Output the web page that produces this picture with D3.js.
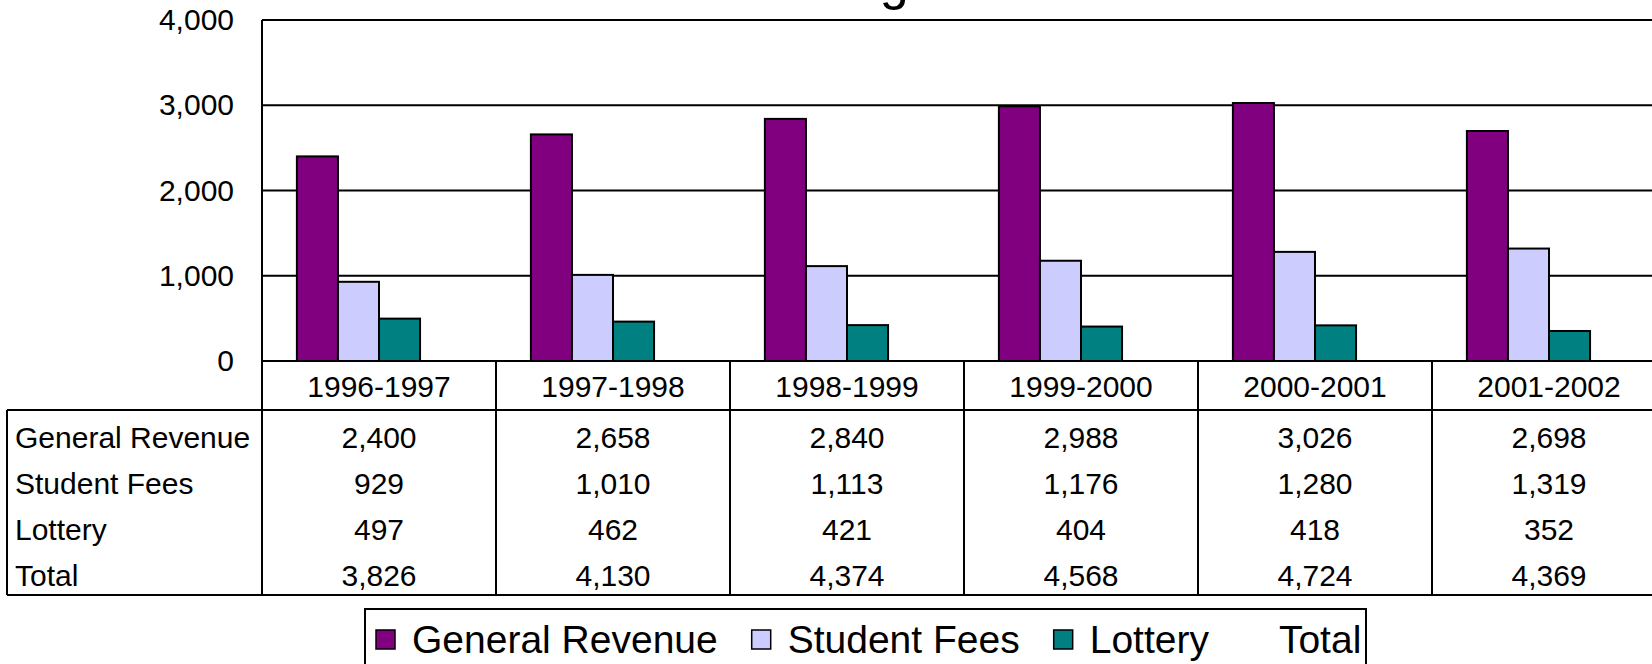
<!DOCTYPE html>
<html>
<head>
<meta charset="utf-8">
<script src="https://cdn.jsdelivr.net/npm/d3@7"></script>
<style>
  body { margin: 0; background: #fff; }
  svg { display: block; font-family: "Liberation Sans", Arial, sans-serif; }
</style>
</head>
<body>
<div class="canvas"></div>
<script>
// data
const categories = ['1996-1997', '1997-1998', '1998-1999', '1999-2000', '2000-2001', '2001-2002']
const seriesNames = ['General Revenue', 'Student Fees', 'Lottery', 'Total']
const generalRevenue = [2400, 2658, 2840, 2988, 3026, 2698]
const studentFees = [929, 1010, 1113, 1176, 1280, 1319]
const lottery = [497, 462, 421, 404, 418, 352]
const total = [3826, 4130, 4374, 4568, 4724, 4369]
const yTicks = [0, 1000, 2000, 3000, 4000]
const colors = ['#800080', '#ccccff', '#008080', 'none']

const seriesValues = [generalRevenue, studentFees, lottery, total]

const width = 1652
const height = 664

const svg = d3.select('.canvas')
    .append('svg')
    .attr('width', width)
    .attr('height', height)

const plot = { left: 262, top: 20, bottom: 361 }
const colW = 234
const tableLeft = 7
const rowH = 46.25
const tableBottom = plot.bottom + 49 + rowH * 4

// scales
const x = d3.scaleBand()
    .domain(categories)
    .range([plot.left, plot.left + colW * categories.length])

const xs = d3.scaleBand()
    .domain(seriesNames)
    .range([0, x.bandwidth()])
    .paddingOuter(0.85)

const y = d3.scaleLinear()
    .domain([0, 4000])
    .range([plot.bottom, plot.top])

// title (mostly above the visible area)
svg.append('text')
    .attr('x', 880 - 52 * 3.06)
    .attr('y', -1)
    .attr('font-size', 52)
    .text('Funding Sources')

// gridlines
svg.append('g')
    .selectAll('line')
    .data(yTicks)
    .enter()
    .append('line')
    .attr('x1', plot.left)
    .attr('x2', width + 20)
    .attr('y1', d => y(d))
    .attr('y2', d => y(d))
    .attr('stroke', '#000')
    .attr('stroke-width', 2)

// y axis labels
const yAxis = d3.axisLeft(y)
    .tickValues(yTicks)
    .tickSize(0)
    .tickPadding(28)
    .tickFormat(d3.format(','))

const yAxisGroup = svg.append('g')
    .attr('transform', `translate(${plot.left},0)`)
    .call(yAxis)
yAxisGroup.select('.domain').remove()
yAxisGroup.selectAll('text')
    .attr('font-size', 30)
    .attr('font-family', '"Liberation Sans", Arial, sans-serif')
    .attr('fill', '#000')

// bars
const groups = svg.append('g')
    .selectAll('g')
    .data(categories)
    .enter()
    .append('g')
    .attr('transform', d => `translate(${x(d)},0)`)

groups.selectAll('rect')
    .data((d, i) => seriesNames.slice(0, 3).map((s, k) => ({ s, k, v: seriesValues[k][i] })))
    .enter()
    .append('rect')
    .attr('x', d => xs(d.s))
    .attr('width', xs.bandwidth())
    .attr('y', d => y(d.v))
    .attr('height', d => plot.bottom - y(d.v))
    .attr('fill', d => colors[d.k])
    .attr('stroke', '#000')
    .attr('stroke-width', 2)

// plot left border
svg.append('line')
    .attr('x1', plot.left).attr('x2', plot.left)
    .attr('y1', plot.top).attr('y2', tableBottom)
    .attr('stroke', '#000').attr('stroke-width', 2)

// data table
const table = svg.append('g')
const headerBottom = plot.bottom + 49

table.append('line')
    .attr('x1', tableLeft).attr('x2', width + 20)
    .attr('y1', headerBottom).attr('y2', headerBottom)
    .attr('stroke', '#000').attr('stroke-width', 2)
table.append('line')
    .attr('x1', tableLeft).attr('x2', width + 20)
    .attr('y1', tableBottom).attr('y2', tableBottom)
    .attr('stroke', '#000').attr('stroke-width', 2)
table.append('line')
    .attr('x1', tableLeft).attr('x2', tableLeft)
    .attr('y1', headerBottom).attr('y2', tableBottom)
    .attr('stroke', '#000').attr('stroke-width', 2)

table.selectAll('.col')
    .data(categories)
    .enter()
    .append('line')
    .attr('x1', d => x(d) + colW).attr('x2', d => x(d) + colW)
    .attr('y1', plot.bottom).attr('y2', tableBottom)
    .attr('stroke', '#000').attr('stroke-width', 2)

table.selectAll('.head')
    .data(categories)
    .enter()
    .append('text')
    .attr('x', d => x(d) + colW / 2)
    .attr('y', plot.bottom + 25)
    .attr('dy', '0.35em')
    .attr('text-anchor', 'middle')
    .attr('font-size', 30)
    .text(d => d)

seriesNames.forEach((name, k) => {
    const ry = headerBottom + rowH * k + 27
    table.append('text')
        .attr('x', 15)
        .attr('y', ry)
        .attr('dy', '0.35em')
        .attr('font-size', 30)
        .text(name)
    table.selectAll('.v' + k)
        .data(seriesValues[k])
        .enter()
        .append('text')
        .attr('x', (d, i) => x(categories[i]) + colW / 2)
        .attr('y', ry)
        .attr('dy', '0.35em')
        .attr('text-anchor', 'middle')
        .attr('font-size', 30)
        .text(d => d3.format(',')(d))
})

// legend
const legend = svg.append('g')
const legTop = 609
const legLeft = 365
let lx = legLeft + 11
seriesNames.forEach((name, k) => {
    if (colors[k] !== 'none') {
        legend.append('rect')
            .attr('x', lx).attr('y', legTop + 21)
            .attr('width', 19).attr('height', 19)
            .attr('fill', colors[k])
            .attr('stroke', '#000').attr('stroke-width', 1.5)
    }
    const t = legend.append('text')
        .attr('x', lx + 36)
        .attr('y', legTop + 30)
        .attr('dy', '0.35em')
        .attr('font-size', 39)
        .text(name)
    lx += 36 + t.node().getComputedTextLength() + 34
})
legend.append('rect')
    .attr('x', legLeft).attr('y', legTop)
    .attr('width', 1366 - legLeft).attr('height', 80)
    .attr('fill', 'none')
    .attr('stroke', '#000').attr('stroke-width', 2)
</script>
</body>
</html>
